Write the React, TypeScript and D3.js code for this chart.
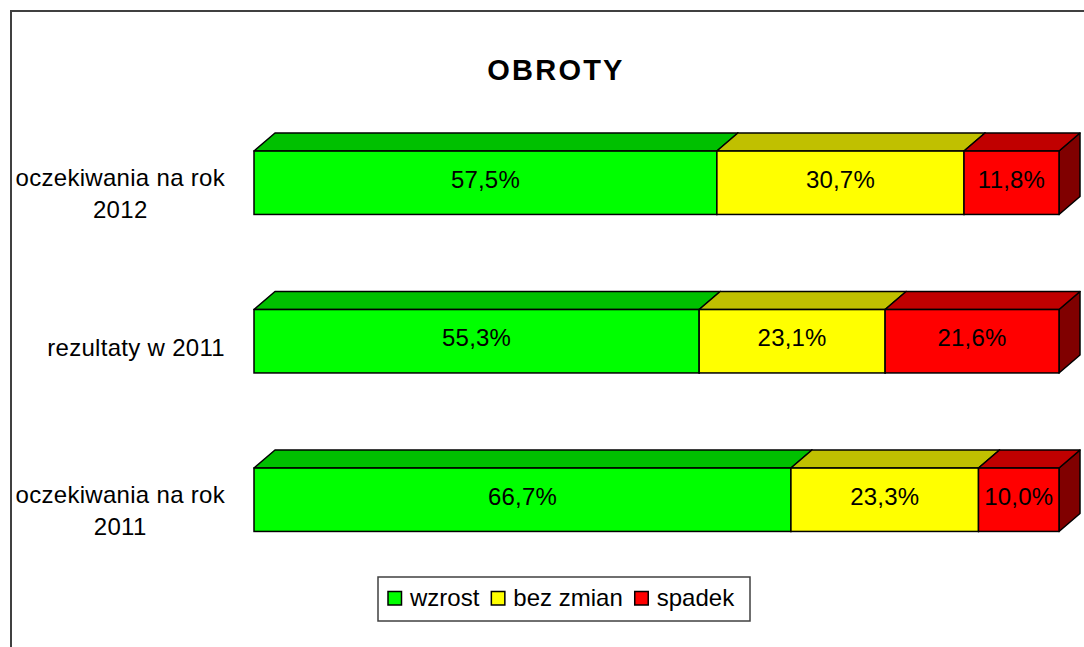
import React, { useEffect, useRef } from 'react';
import * as d3 from 'd3';

// Chart data
const categories = ['oczekiwania na rok 2012', 'rezultaty w 2011', 'oczekiwania na rok 2011'];
const seriesNames = ['wzrost', 'bez zmian', 'spadek'];
const wzrost = [57.5, 55.3, 66.7];
const bezZmian = [30.7, 23.1, 23.3];
const spadek = [11.8, 21.6, 10.0];
const title = 'OBROTY';

const FONT = '"Liberation Sans", Arial, sans-serif';

const App = () => {
  const ref = useRef<SVGSVGElement>(null);

  useEffect(() => {
    const width = 1084;
    const height = 647;
    const depthX = 21;
    const depthY = 18;

    const front = ['#00FF00', '#FFFF00', '#FF0000'];
    const top = ['#00C000', '#C0C000', '#C00000'];
    const side = ['#008000', '#808000', '#800000'];

    const svg = d3.select(ref.current);
    svg.selectAll('*').remove();
    svg.attr('width', width).attr('height', height).attr('viewBox', [0, 0, width, height]);

    svg.append('rect').attr('width', width).attr('height', height).attr('fill', '#fff');

    // frame (chart area runs off the picture right and bottom)
    svg
      .append('path')
      .attr('d', `M11,${height + 5}V11H${width + 5}`)
      .attr('fill', 'none')
      .attr('stroke', '#404040')
      .attr('stroke-width', 2);

    svg
      .append('text')
      .attr('x', 556)
      .attr('y', 80)
      .attr('text-anchor', 'middle')
      .attr('font-family', FONT)
      .attr('font-weight', 'bold')
      .attr('font-size', 29)
      .attr('letter-spacing', 2.2)
      .text(title);

    const x = d3.scaleLinear().domain([0, 100]).range([254, 1059]);
    const y = d3
      .scaleBand()
      .domain(categories)
      .range([103.5, 579])
      .paddingInner(0.6)
      .paddingOuter(0.3);
    const bw = y.bandwidth();

    const values = [wzrost, bezZmian, spadek];
    const rows = categories.map((c, i) => {
      let acc = 0;
      return values.map((v, s) => {
        const seg = { cat: c, s, v: v[i], x0: acc, x1: acc + v[i] };
        acc += v[i];
        return seg;
      });
    });

    const fmt = (v: number) => d3.format('.1f')(v).replace('.', ',') + '%';
    const stroke = '#000';

    rows.forEach((segs) => {
      const g = svg.append('g');
      segs.forEach((d) => {
        const x0 = x(d.x0);
        const x1 = x(d.x1);
        const y0 = y(d.cat)!;
        const y1 = y0 + bw;
        g.append('path')
          .attr('d', `M${x1},${y0}L${x1 + depthX},${y0 - depthY}L${x1 + depthX},${y1 - depthY}L${x1},${y1}Z`)
          .attr('fill', side[d.s])
          .attr('stroke', stroke)
          .attr('stroke-width', 1.5)
          .attr('stroke-linejoin', 'round');
        g.append('path')
          .attr('d', `M${x0},${y0}L${x0 + depthX},${y0 - depthY}L${x1 + depthX},${y0 - depthY}L${x1},${y0}Z`)
          .attr('fill', top[d.s])
          .attr('stroke', stroke)
          .attr('stroke-width', 1.5)
          .attr('stroke-linejoin', 'round');
        g.append('rect')
          .attr('x', x0)
          .attr('y', y0)
          .attr('width', x1 - x0)
          .attr('height', bw)
          .attr('fill', front[d.s])
          .attr('stroke', stroke)
          .attr('stroke-width', 1.5);
      });
      segs.forEach((d) => {
        g.append('text')
          .attr('x', (x(d.x0) + x(d.x1)) / 2)
          .attr('y', y(d.cat)! + bw / 2 + 5)
          .attr('text-anchor', 'middle')
          .attr('font-family', FONT)
          .attr('font-size', 24)
          .attr('letter-spacing', 0.2)
          .attr('fill', '#000')
          .text(fmt(d.v));
      });
    });

    // category labels, wrapped and centred inside a right-aligned block
    const labelRight = 225;
    const maxW = 215;
    const measure = svg
      .append('text')
      .attr('font-family', FONT)
      .attr('font-size', 24)
      .attr('letter-spacing', 0.3);
    const textW = (s: string) => {
      measure.text(s);
      return (measure.node() as SVGTextElement).getComputedTextLength();
    };
    categories.forEach((c) => {
      const words = c.split(' ');
      const lines: string[] = [];
      let cur = '';
      words.forEach((w) => {
        const t = cur ? cur + ' ' + w : w;
        if (cur && textW(t) > maxW) {
          lines.push(cur);
          cur = w;
        } else cur = t;
      });
      lines.push(cur);
      const blockW = d3.max(lines, (l) => textW(l))!;
      const cx = labelRight - blockW / 2;
      const mid = y(c)! + bw / 2;
      const first = lines.length === 1 ? mid + 15 : mid + 3;
      lines.forEach((l, i) => {
        svg
          .append('text')
          .attr('x', cx)
          .attr('y', first + i * 32)
          .attr('text-anchor', 'middle')
          .attr('font-family', FONT)
          .attr('font-size', 24)
          .attr('letter-spacing', 0.3)
          .text(l);
      });
    });
    measure.remove();

    // legend
    const legend = svg.append('g');
    legend
      .append('rect')
      .attr('x', 378)
      .attr('y', 577)
      .attr('width', 372)
      .attr('height', 44)
      .attr('fill', '#fff')
      .attr('stroke', '#404040')
      .attr('stroke-width', 1.5);
    let lx = 388;
    seriesNames.forEach((name, i) => {
      legend
        .append('rect')
        .attr('x', lx)
        .attr('y', 591.5)
        .attr('width', 13.5)
        .attr('height', 13.5)
        .attr('fill', front[i])
        .attr('stroke', '#000')
        .attr('stroke-width', 1.5);
      const t = legend
        .append('text')
        .attr('x', lx + 22)
        .attr('y', 606)
        .attr('font-family', FONT)
        .attr('font-size', 24)
        .text(name);
      lx += 22 + (t.node() as SVGTextElement).getComputedTextLength() + 12;
    });
  }, []);

  return (
    <div style={{ position: 'absolute', left: 0, top: 0 }}>
      <svg ref={ref}></svg>
    </div>
  );
};

export default App;
